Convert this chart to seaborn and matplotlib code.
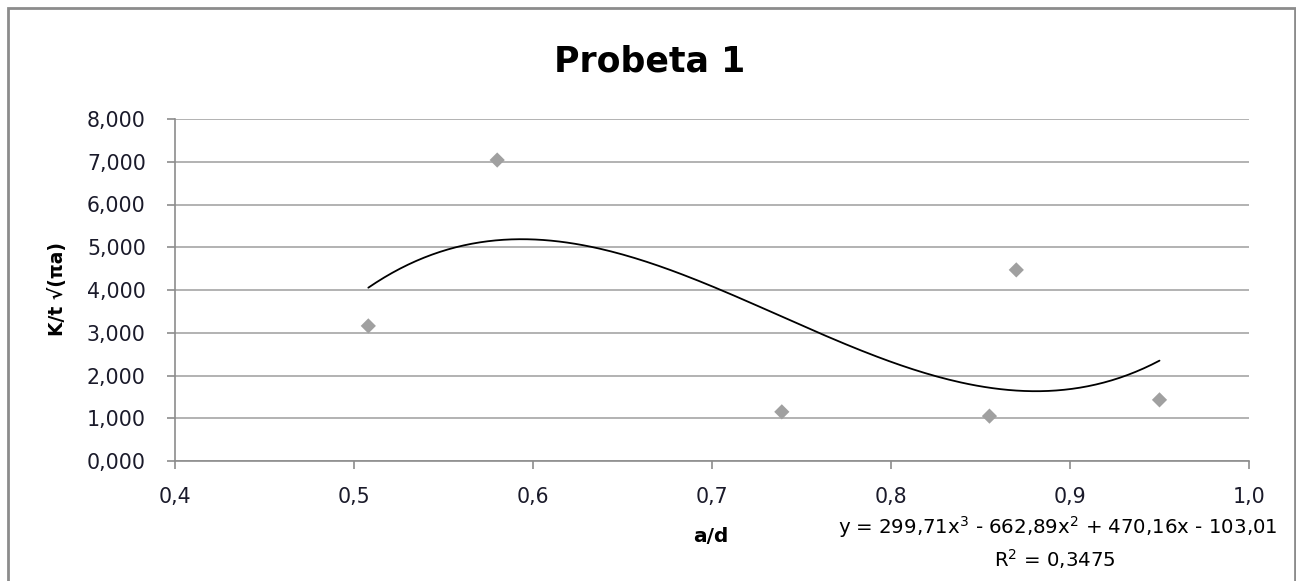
import numpy as np
import matplotlib
matplotlib.use("Agg")
import matplotlib.pyplot as plt
import matplotlib.patches as mpatches
from matplotlib.ticker import FuncFormatter
import seaborn as sns

# datos
a_d = [0.508, 0.580, 0.739, 0.855, 0.870, 0.950]
k_t = [3.16, 7.04, 1.15, 1.05, 4.47, 1.43]
# coeficientes de la línea de tendencia (polinómica grado 3)
coef = [299.71, -662.89, 470.16, -103.01]
r2 = 0.3475

sns.set_style("white")
plt.rcParams["font.family"] = ["DejaVu Sans"]
plt.rcParams["text.color"] = "black"

fig = plt.figure(figsize=(12.96, 5.81), dpi=100)
ax = fig.add_axes([175 / 1296, 1 - 461 / 581, (1249 - 175) / 1296, (461 - 119) / 581])

# marco exterior del gráfico
fig.patches.append(mpatches.Rectangle((8 / 1296, -0.05), (1295 - 8) / 1296, 1 - 8 / 581 + 0.05,
                                      transform=fig.transFigure, fill=False,
                                      edgecolor="#8c8c8c", linewidth=2))

sns.scatterplot(x=a_d, y=k_t, ax=ax, marker="D", s=60, color="#a0a0a0", edgecolor="none", zorder=3)

xs = np.linspace(min(a_d), max(a_d), 200)
sns.lineplot(x=xs, y=np.polyval(coef, xs), ax=ax, color="black", linewidth=1.3, zorder=4)

ax.set_xlim(0.4, 1.0)
ax.set_ylim(0, 8)
ax.set_xticks(np.arange(0.4, 1.01, 0.1))
ax.set_yticks(range(0, 9))
ax.xaxis.set_major_formatter(FuncFormatter(lambda v, p: f"{v:.1f}".replace(".", ",")))
ax.yaxis.set_major_formatter(FuncFormatter(lambda v, p: f"{v:.3f}".replace(".", ",")))
ax.grid(axis="y", color="#a6a6a6", linewidth=1.2)
ax.set_axisbelow(True)
ax.set_xlabel("")
ax.set_ylabel("")
for s in ["top", "right"]:
    ax.spines[s].set_visible(False)
for s in ["left", "bottom"]:
    ax.spines[s].set_color("#8c8c8c")
    ax.spines[s].set_linewidth(1.2)
ax.tick_params(axis="both", which="major", length=6, width=1.2, color="#8c8c8c",
               labelsize=14.8, labelcolor="#1a1a2a", direction="out")
ax.tick_params(axis="x", pad=13, bottom=True)
ax.tick_params(axis="y", pad=15, left=True)

fig.text(650 / 1296, 1 - 62 / 581, "Probeta 1", ha="center", va="center",
         fontsize=25, fontweight="bold", color="black")
fig.text(58 / 1296, 1 - 289 / 581, "K/t √(πa)", ha="center", va="center",
         rotation=90, fontsize=13.5, fontweight="bold", color="black")
fig.text(711 / 1296, 1 - 536 / 581, "a/d", ha="center", va="center",
         fontsize=14.5, fontweight="bold", color="black")
eq = "y = {:,.2f}x$^3$ - {:,.2f}x$^2$ + {:,.2f}x - {:,.2f}".format(
    coef[0], -coef[1], coef[2], -coef[3]).replace(".", ",")
fig.text(1058 / 1296, 1 - 527 / 581, eq, ha="center", va="center", fontsize=14.2, color="black")
fig.text(1055 / 1296, 1 - 559 / 581, "R$^2$ = " + f"{r2:.4f}".replace(".", ","),
         ha="center", va="center", fontsize=14.2, color="black")

fig.savefig("out.png", dpi=100)
